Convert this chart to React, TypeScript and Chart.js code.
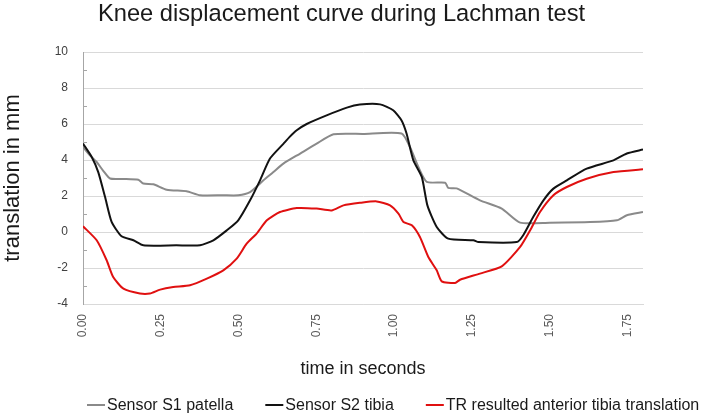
import React, { useEffect, useRef } from 'react';
import { Chart, registerables } from 'chart.js';

Chart.register(...registerables);

const chartTitle = 'Knee displacement curve during Lachman test';
const xAxisTitle = 'time in seconds';
const yAxisTitle = 'translation in mm';
const seriesLabels = ['Sensor S1 patella', 'Sensor S2 tibia', 'TR resulted anterior tibia translation'];
const seriesColors = ['#8a8a8a', '#121212', '#e01010'];

const xTickValues = [0, 0.25, 0.5, 0.75, 1.0, 1.25, 1.5, 1.75];
const yMinorTicks = [-3, -1, 1, 3, 5, 7, 9];

const patellaTime = [0, 0.02, 0.044, 0.065, 0.087, 0.13, 0.178, 0.194, 0.226, 0.269, 0.333, 0.376, 0.45, 0.499, 0.537, 0.58, 0.612, 0.644, 0.698, 0.751, 0.805, 0.9, 1.024, 1.051, 1.078, 1.105, 1.164, 1.174, 1.201, 1.276, 1.346, 1.405, 1.5, 1.63, 1.716, 1.748, 1.8];
const patellaValues = [4.72, 4.3, 3.89, 3.4, 2.97, 2.95, 2.9, 2.69, 2.65, 2.35, 2.26, 2.04, 2.04, 2.04, 2.22, 2.87, 3.33, 3.8, 4.36, 4.91, 5.43, 5.45, 5.47, 4.72, 3.61, 2.78, 2.74, 2.45, 2.42, 1.76, 1.3, 0.52, 0.52, 0.55, 0.65, 0.93, 1.11];

const tibiaTime = [0, 0.028, 0.049, 0.071, 0.092, 0.124, 0.162, 0.194, 0.3, 0.376, 0.419, 0.462, 0.499, 0.537, 0.569, 0.601, 0.644, 0.665, 0.687, 0.719, 0.783, 0.848, 0.89, 0.955, 0.997, 1.024, 1.04, 1.062, 1.089, 1.107, 1.137, 1.174, 1.255, 1.271, 1.394, 1.415, 1.447, 1.48, 1.512, 1.555, 1.619, 1.705, 1.748, 1.8];
const tibiaValues = [4.91, 4.17, 3.33, 1.94, 0.56, -0.24, -0.46, -0.74, -0.74, -0.74, -0.46, 0.09, 0.65, 1.76, 2.87, 4.08, 4.9, 5.3, 5.65, 6.0, 6.48, 6.91, 7.08, 7.09, 6.76, 6.2, 5.47, 3.98, 3.06, 1.48, 0.28, -0.37, -0.46, -0.56, -0.56, -0.18, 0.83, 1.76, 2.41, 2.87, 3.52, 3.98, 4.36, 4.58];

const translationTime = [0, 0.044, 0.076, 0.097, 0.13, 0.183, 0.215, 0.248, 0.29, 0.344, 0.398, 0.451, 0.494, 0.526, 0.558, 0.591, 0.633, 0.687, 0.751, 0.799, 0.837, 0.89, 0.944, 0.987, 1.014, 1.03, 1.057, 1.083, 1.11, 1.137, 1.153, 1.196, 1.212, 1.276, 1.346, 1.405, 1.437, 1.469, 1.512, 1.555, 1.619, 1.705, 1.8];
const translationValues = [0.32, -0.46, -1.57, -2.5, -3.15, -3.42, -3.42, -3.2, -3.06, -2.96, -2.59, -2.13, -1.48, -0.65, -0.09, 0.65, 1.11, 1.33, 1.3, 1.2, 1.48, 1.62, 1.7, 1.48, 1.02, 0.56, 0.37, -0.28, -1.39, -2.13, -2.74, -2.83, -2.65, -2.31, -1.91, -0.83, 0.09, 1.11, 2.04, 2.5, 2.96, 3.33, 3.48];

const FONT = '"Liberation Sans", Arial, sans-serif';

const toPoints = (t: number[], v: number[]) => t.map((x, i) => ({ x, y: v[i] }));

const minorTicksPlugin = {
  id: 'minorTicks',
  afterDraw(chart: any) {
    const { ctx, scales } = chart;
    const y = scales.y;
    ctx.save();
    ctx.strokeStyle = '#a6a6a6';
    ctx.lineWidth = 1;
    yMinorTicks.forEach((v) => {
      const py = Math.round(y.getPixelForValue(v)) + 0.5;
      ctx.beginPath();
      ctx.moveTo(y.right, py);
      ctx.lineTo(y.right + 4, py);
      ctx.stroke();
    });
    ctx.restore();
  },
};

const lineLegendPlugin = {
  id: 'lineLegend',
  afterDraw(chart: any) {
    const { ctx } = chart;
    ctx.save();
    ctx.font = `16px ${FONT}`;
    ctx.textBaseline = 'middle';
    ctx.textAlign = 'left';
    let x = 87;
    const yText = 406;
    const yLine = 405;
    chart.data.datasets.forEach((ds: any) => {
      ctx.strokeStyle = ds.borderColor;
      ctx.lineWidth = 2;
      ctx.beginPath();
      ctx.moveTo(x, yLine);
      ctx.lineTo(x + 18, yLine);
      ctx.stroke();
      ctx.fillStyle = '#1a1a1a';
      ctx.fillText(ds.label, x + 20, yText);
      x += 20 + ctx.measureText(ds.label).width + 32;
    });
    ctx.restore();
  },
};

export default function App() {
  const ref = useRef<HTMLCanvasElement>(null);

  useEffect(() => {
    const canvas = ref.current;
    if (!canvas) return;
    Chart.defaults.font.family = FONT;
    const series = [
      toPoints(patellaTime, patellaValues),
      toPoints(tibiaTime, tibiaValues),
      toPoints(translationTime, translationValues),
    ];
    const chart = new Chart(canvas, {
      type: 'line',
      data: {
        datasets: series.map((data, i) => ({
          label: seriesLabels[i],
          data,
          borderColor: seriesColors[i],
          backgroundColor: seriesColors[i],
          borderWidth: 2,
          pointRadius: 0,
          tension: 0.2,
          fill: false,
          order: 3 - i,
        })),
      },
      options: {
        responsive: false,
        animation: false,
        layout: { padding: { left: 0, right: 25, top: 0, bottom: 0 } },
        plugins: {
          legend: { display: false },
          tooltip: { enabled: false },
          title: {
            display: true,
            text: chartTitle,
            color: '#1a1a1a',
            font: { size: 23.7, weight: 'normal', lineHeight: 1, family: FONT },
            padding: { top: 3, bottom: 25.3 },
          },
        },
        scales: {
          x: {
            type: 'linear',
            min: 0,
            max: 1.8,
            afterFit: (s: any) => {
              s.height = 113;
              s.paddingRight = 65;
            },
            afterBuildTicks: (s: any) => {
              s.ticks = xTickValues.map((value) => ({ value }));
            },
            grid: { display: false, drawTicks: false },
            border: { display: true, color: '#d9d9d9', width: 1 },
            ticks: {
              includeBounds: false,
              stepSize: 0.25,
              autoSkip: false,
              minRotation: 90,
              maxRotation: 90,
              padding: 10,
              color: '#595959',
              font: { size: 12, family: FONT },
              callback: (v: any) => Number(v).toFixed(2),
            },
            title: {
              display: true,
              text: xAxisTitle,
              color: '#1a1a1a',
              font: { size: 18, family: FONT },
              padding: { top: 0, bottom: 37.2 },
            },
          },
          y: {
            type: 'linear',
            min: -4,
            max: 10,
            afterFit: (s: any) => {
              s.width = 83;
            },
            grid: { color: '#d9d9d9', lineWidth: 1, drawTicks: false },
            border: { display: true, color: '#a6a6a6', width: 1 },
            ticks: {
              stepSize: 2,
              padding: 15,
              color: '#404040',
              font: { size: 12, family: FONT },
            },
            title: {
              display: true,
              text: yAxisTitle,
              color: '#1a1a1a',
              font: { size: 22, family: FONT },
              padding: { top: 0, bottom: 0 },
            },
          },
        },
      },
      plugins: [minorTicksPlugin, lineLegendPlugin],
    } as any);
    return () => chart.destroy();
  }, []);

  return (
    <div style={{ position: 'fixed', left: 0, top: 0, width: 708, height: 417, background: '#ffffff' }}>
      <canvas ref={ref} width={708} height={417} style={{ display: 'block', width: 708, height: 417 }} />
    </div>
  );
}
